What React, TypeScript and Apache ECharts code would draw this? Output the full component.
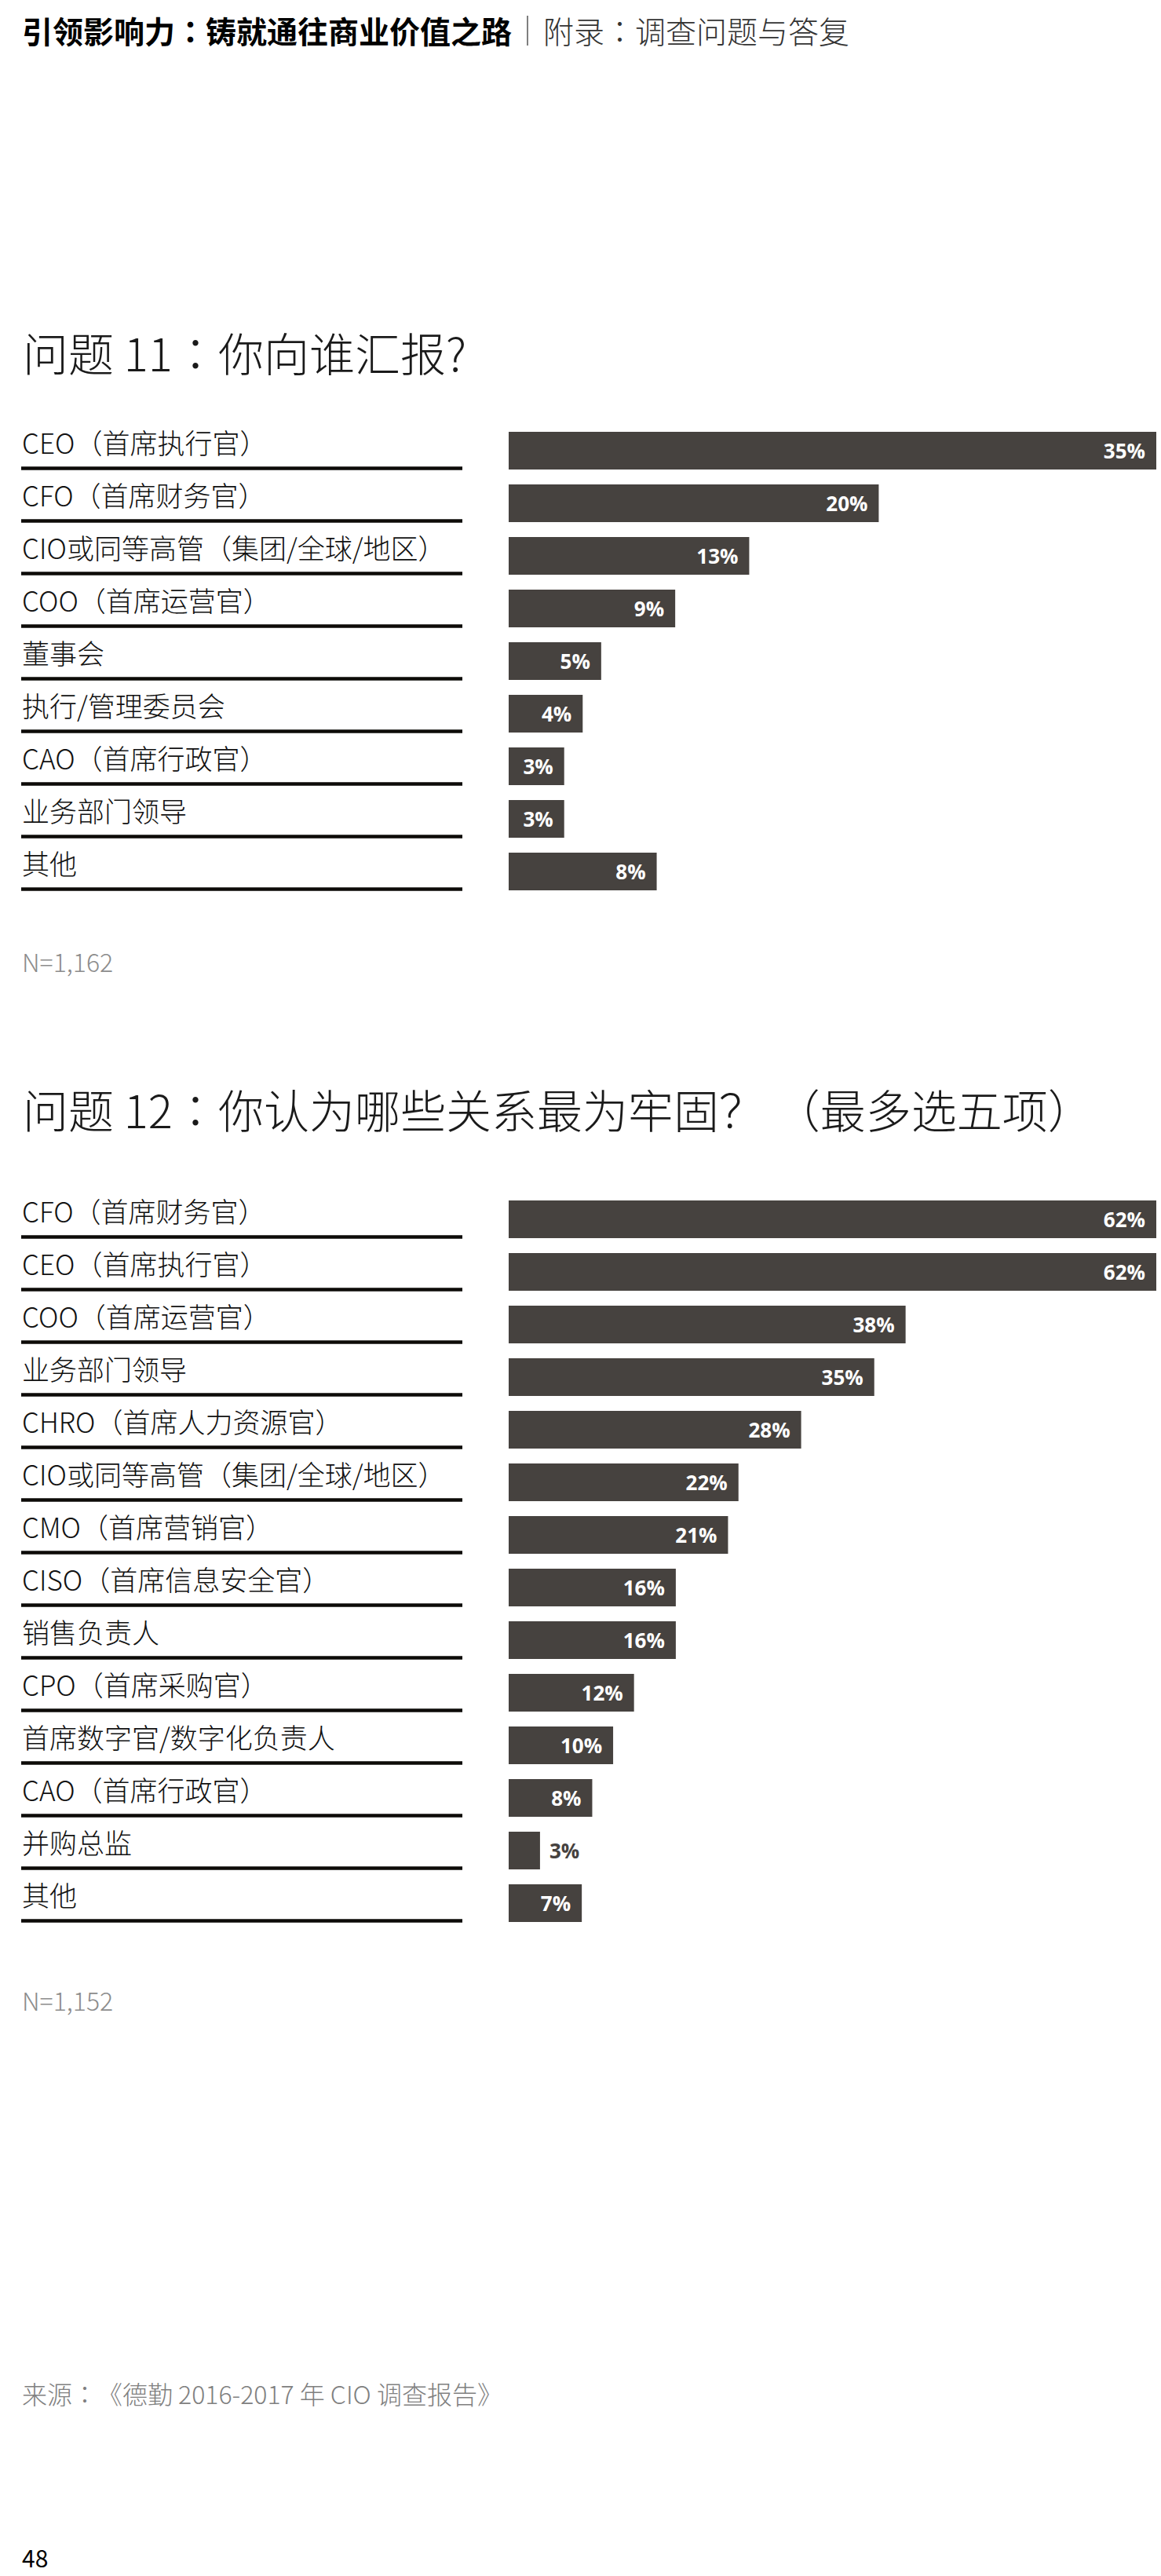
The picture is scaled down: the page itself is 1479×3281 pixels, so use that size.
import React, { useEffect, useRef } from "react";
import * as echarts from "echarts";

const HEADER_BOLD = "引领影响力：铸就通往商业价值之路";
const HEADER_LIGHT = "附录：调查问题与答复";

const Q11_TITLE = "问题 11：你向谁汇报?";
const Q11_CATEGORIES = [
  "CEO（首席执行官）",
  "CFO（首席财务官）",
  "CIO或同等高管（集团/全球/地区）",
  "COO（首席运营官）",
  "董事会",
  "执行/管理委员会",
  "CAO（首席行政官）",
  "业务部门领导",
  "其他",
];
const Q11_VALUES = [35, 20, 13, 9, 5, 4, 3, 3, 8];
const Q11_NOTE = "N=1,162";

const Q12_TITLE = "问题 12：你认为哪些关系最为牢固？ （最多选五项）";
const Q12_CATEGORIES = [
  "CFO（首席财务官）",
  "CEO（首席执行官）",
  "COO（首席运营官）",
  "业务部门领导",
  "CHRO（首席人力资源官）",
  "CIO或同等高管（集团/全球/地区）",
  "CMO（首席营销官）",
  "CISO（首席信息安全官）",
  "销售负责人",
  "CPO（首席采购官）",
  "首席数字官/数字化负责人",
  "CAO（首席行政官）",
  "并购总监",
  "其他",
];
const Q12_VALUES = [62, 62, 38, 35, 28, 22, 21, 16, 16, 12, 10, 8, 3, 7];
const Q12_NOTE = "N=1,152";

const SOURCE = "来源：《德勤 2016-2017 年 CIO 调查报告》";
const PAGE_NO = "48";

const CJK = '"Noto Sans CJK SC", "Noto Sans", sans-serif';
const CJK_TC = '"Noto Sans CJK TC", "Noto Sans CJK SC", sans-serif';
const BAR_COLOR = "#46423F";

function labelAxis(gridIndex: number, data: string[]) {
  return {
    gridIndex,
    type: "category",
    inverse: true,
    data,
    axisLine: { show: false },
    axisTick: { show: false },
    axisLabel: {
      inside: true,
      margin: 1,
      align: "left",
      verticalAlign: "middle",
      interval: 0,
      fontSize: 35,
      fontFamily: CJK,
      fontWeight: 300,
      color: "#111111",
    },
    splitLine: {
      show: true,
      interval: 0,
      showMinLine: false,
      lineStyle: { color: "#0d0b08", width: 4.5 },
    },
  };
}

function barAxis(gridIndex: number, data: string[]) {
  return { gridIndex, type: "category", inverse: true, data, show: false };
}

function barSeries(axisIndex: number, values: number[], max: number) {
  return {
    type: "bar",
    xAxisIndex: axisIndex,
    yAxisIndex: axisIndex,
    barWidth: 48,
    itemStyle: { color: BAR_COLOR },
    label: {
      show: true,
      position: "insideRight",
      distance: 14,
      formatter: "{c}%",
      color: "#ffffff",
      fontFamily: '"Open Sans", sans-serif',
      fontWeight: "bold",
      fontSize: 26,
    },
    data: values.map((v) =>
      v / max < 0.06
        ? {
            value: v,
            label: { position: "right", distance: 12, color: BAR_COLOR },
          }
        : { value: v }
    ),
  };
}

// text whose full-width colons are drawn centred (as in the reference typeface)
function text(x: number, y: number, t: string, style: any) {
  const base = { fontFamily: CJK, ...style };
  delete base.fill;
  const rich = t
    .split("：")
    .map((s) => (s ? `{a|${s}}` : ""))
    .join("{c|：}");
  return {
    type: "text",
    x,
    y,
    style: {
      text: rich,
      verticalAlign: "middle",
      fill: style.fill,
      ...base,
      rich: {
        a: { ...base, fill: style.fill },
        c: { ...base, fontFamily: CJK_TC, fill: style.fill },
      },
    },
  };
}

export default function App() {
  const ref = useRef<HTMLDivElement>(null);
  useEffect(() => {
    document.body.style.margin = "0";
    const chart = echarts.init(ref.current!, null, { renderer: "svg" });
    chart.setOption({
      animation: false,
      backgroundColor: "#ffffff",
      grid: [
        { left: 27, top: 529, width: 562, height: 603 },
        { left: 648, top: 540.5, width: 825, height: 603 },
        { left: 27, top: 1508, width: 562, height: 938 },
        { left: 648, top: 1519.5, width: 825, height: 938 },
      ],
      xAxis: [
        { gridIndex: 0, type: "value", min: 0, max: 1, show: false },
        { gridIndex: 1, type: "value", min: 0, max: 35, show: false },
        { gridIndex: 2, type: "value", min: 0, max: 1, show: false },
        { gridIndex: 3, type: "value", min: 0, max: 62, show: false },
      ],
      yAxis: [
        labelAxis(0, Q11_CATEGORIES),
        barAxis(1, Q11_CATEGORIES),
        labelAxis(2, Q12_CATEGORIES),
        barAxis(3, Q12_CATEGORIES),
      ],
      series: [barSeries(1, Q11_VALUES, 35), barSeries(3, Q12_VALUES, 62)],
      graphic: [
        text(28, 38, HEADER_BOLD, { fontSize: 39, fontWeight: "bold", fill: "#000" }),
        {
          type: "line",
          shape: { x1: 672, y1: 20, x2: 672, y2: 58 },
          style: { stroke: "#555", lineWidth: 1.5 },
        },
        text(692, 38, HEADER_LIGHT, { fontSize: 39, fontWeight: 300, fill: "#333" }),
        text(29, 448, Q11_TITLE, { fontSize: 58, fontWeight: 300, fill: "#1a1a1a" }),
        text(28, 1224, Q11_NOTE, { fontSize: 32, fontWeight: 300, fill: "#8c8c8c" }),
        text(29, 1412, Q12_TITLE, { fontSize: 58, fontWeight: 300, fill: "#1a1a1a" }),
        text(28, 2547, Q12_NOTE, { fontSize: 32, fontWeight: 300, fill: "#8c8c8c" }),
        text(28, 3048, SOURCE, { fontSize: 32, fontWeight: 300, fill: "#808080" }),
        text(28, 3257, PAGE_NO, { fontSize: 30, fontWeight: 400, fill: "#000" }),
      ],
    });
    return () => chart.dispose();
  }, []);
  return <div ref={ref} style={{ width: 1479, height: 3281 }} />;
}
